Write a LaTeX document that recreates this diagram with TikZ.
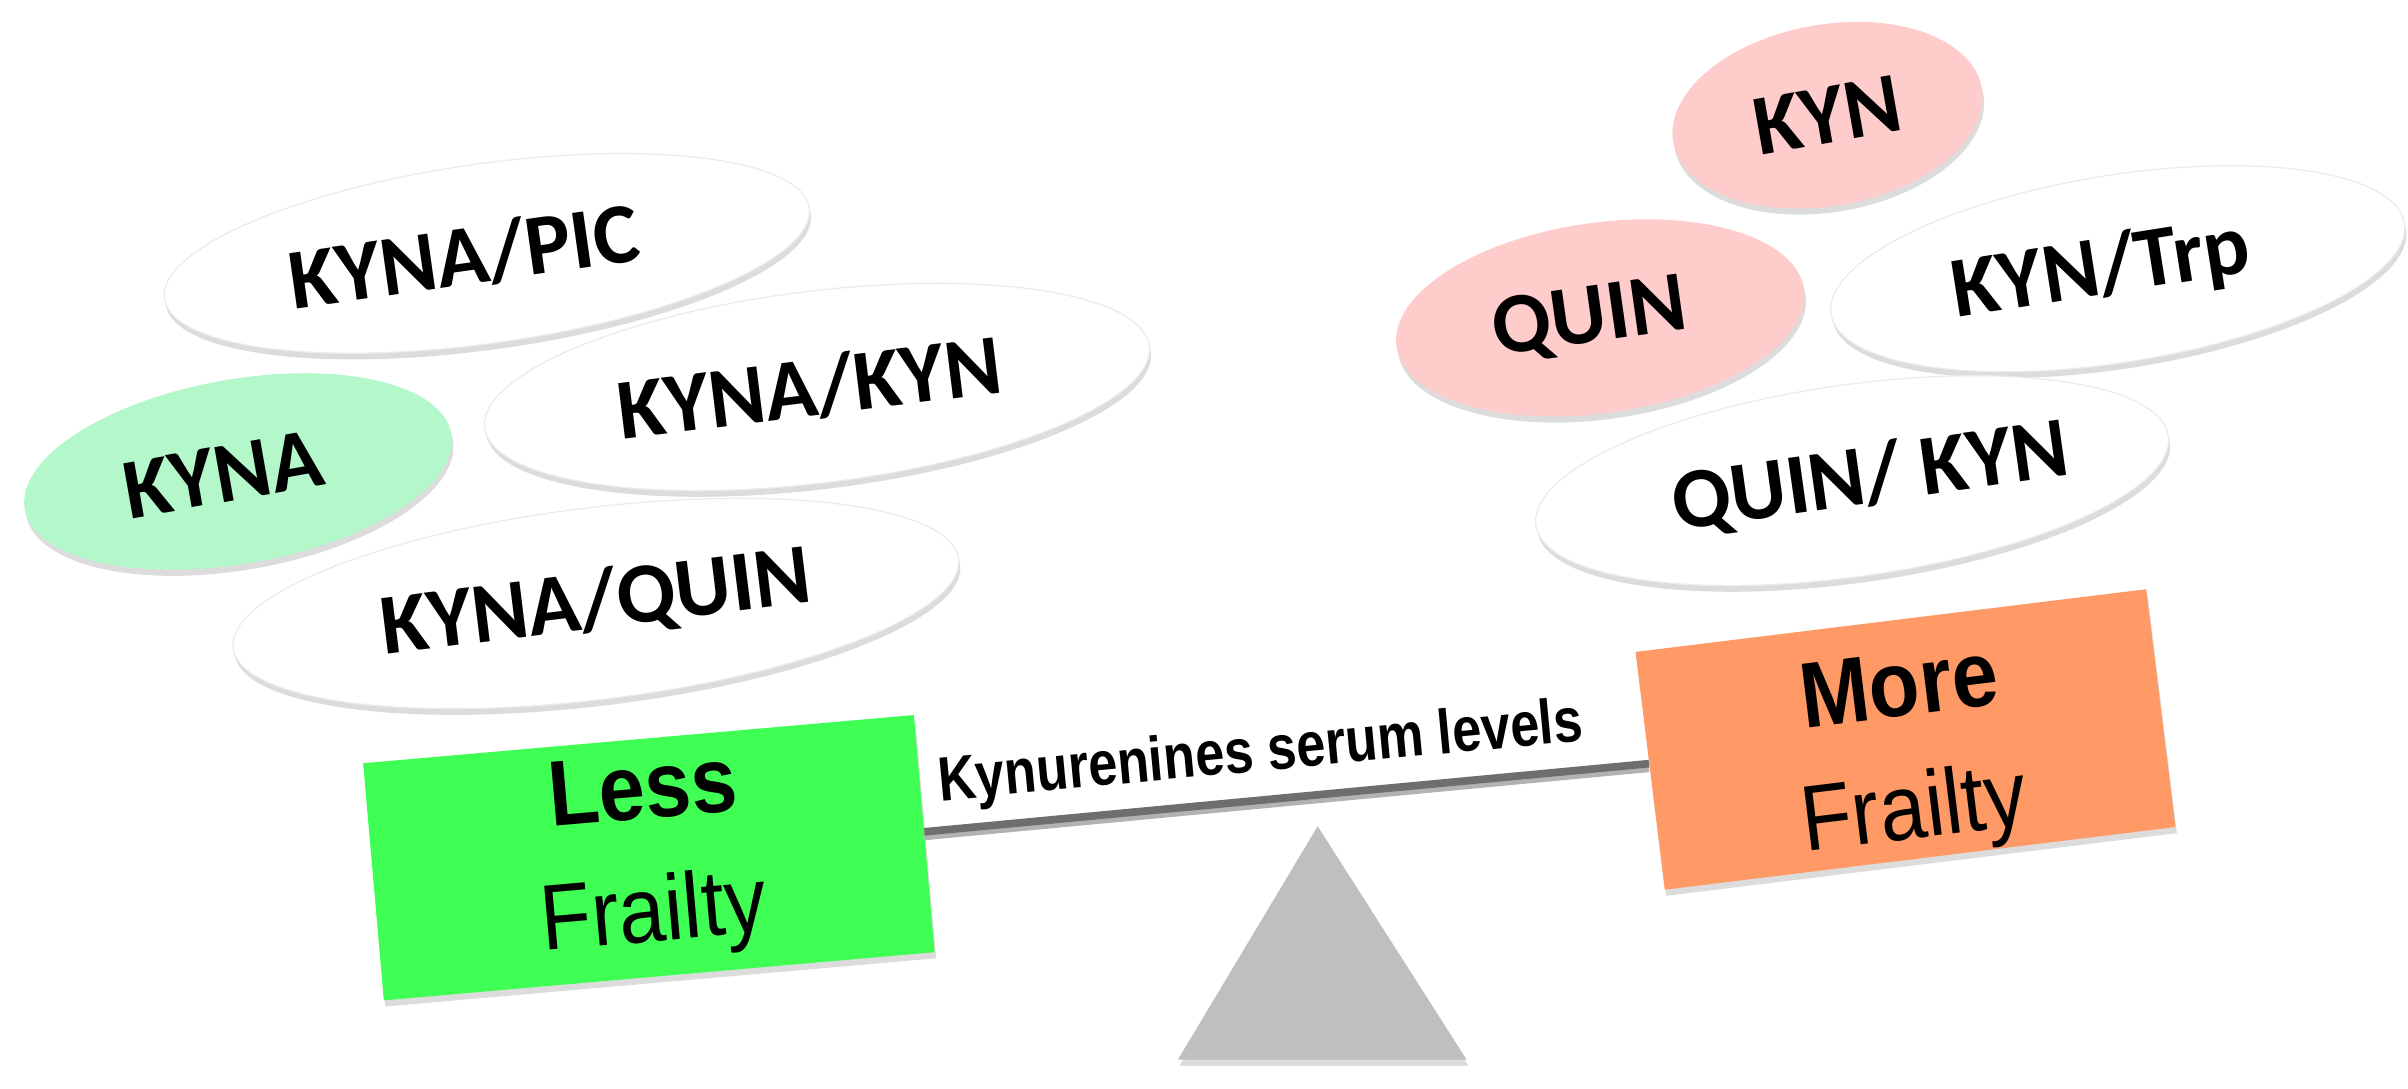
\documentclass[tikz,border=0pt]{standalone}
\usepackage{fontspec}
\setmainfont{Liberation Sans}
\newfontfamily\calib{Carlito}
\usetikzlibrary{shapes.geometric,shadows}
\definecolor{lessgreen}{RGB}{64,255,84}
\definecolor{moreorange}{RGB}{255,153,102}
\definecolor{kynagreen}{RGB}{180,247,203}
\definecolor{pinkfill}{RGB}{255,204,204}
\definecolor{pivotgray}{RGB}{191,191,191}
\definecolor{beamgray}{RGB}{110,110,110}
\begin{document}
\begin{tikzpicture}[x=1pt,y=-1pt,
  shadowed/.style={drop shadow={opacity=0.28,shadow xshift=1pt,shadow yshift=-4pt}},
  blob/.style={ellipse, inner sep=0pt, shadowed, text=black,
    font=\calib\bfseries\fontsize{56}{60}\selectfont},
  whiteblob/.style={blob, fill=white, draw=black!8, line width=0.8pt},
  greenblob/.style={blob, fill=kynagreen},
  pinkblob/.style={blob, fill=pinkfill},
  frailbox/.style={rectangle, inner sep=0pt, shadowed, align=center, text=black,
    font=\fontsize{54}{80}\selectfont},
  beamlabel/.style={font=\bfseries\fontsize{34}{40}\selectfont, inner sep=2pt, text=black},
]
\useasboundingbox (0,0) rectangle (1568,709.1);

% left group
\node[whiteblob, minimum width=424pt, minimum height=117pt, rotate=8]
  (pic) at (317,165) {\hspace*{-30pt}KYNA/PIC};
\node[whiteblob, minimum width=436pt, minimum height=125pt, rotate=7]
  (kynakyn) at (532,252) {\hspace*{-10pt}KYNA/KYN};
\node[greenblob, minimum width=282pt, minimum height=120pt, rotate=10]
  (kyna) at (155,307) {\hspace*{-20pt}KYNA};
\node[whiteblob, minimum width=476pt, minimum height=125pt, rotate=7]
  (kynaquin) at (388,393) {KYNA/QUIN};

% right group
\node[pinkblob, minimum width=204pt, minimum height=118pt, rotate=10]
  (kyn) at (1190,75) {KYN};
\node[pinkblob, minimum width=268pt, minimum height=124pt, rotate=8]
  (quin) at (1042,207) {\hspace*{-14pt}QUIN};
\node[whiteblob, minimum width=378pt, minimum height=122pt, rotate=9]
  (kyntrp) at (1379,175) {\hspace*{-22pt}KYN/Trp};
\node[whiteblob, minimum width=416pt, minimum height=125pt, rotate=8]
  (quinkyn) at (1206,313) {\hspace*{24pt}QUIN/ KYN};

% pivot
\fill[pivotgray, shadowed] (858,538) -- (955,690) -- (767,690) -- cycle;

% boxes
\node[frailbox, fill=lessgreen, minimum width=360pt, minimum height=155pt, rotate=5]
  (less) at (422.5,558.5)
  {\scalebox{1}[1.12]{\bfseries Less}\\\scalebox{1}[1.12]{Frailty}};
\node[frailbox, fill=moreorange, minimum width=335pt, minimum height=156pt, rotate=7]
  (more) at (1240.75,481.5)
  {\rule{0pt}{62pt}\scalebox{1}[1.12]{\bfseries More}\\\scalebox{1}[1.12]{Frailty}};

% beam
\draw[black!30, line width=5pt, transform canvas={yshift=-3pt}] (less) -- (more);
\draw[beamgray, line width=5pt] (less) -- (more)
  node[beamlabel, sloped, pos=0.47, above=6pt] {\scalebox{1}[1.2]{Kynurenines serum levels}};
\end{tikzpicture}
\end{document}
